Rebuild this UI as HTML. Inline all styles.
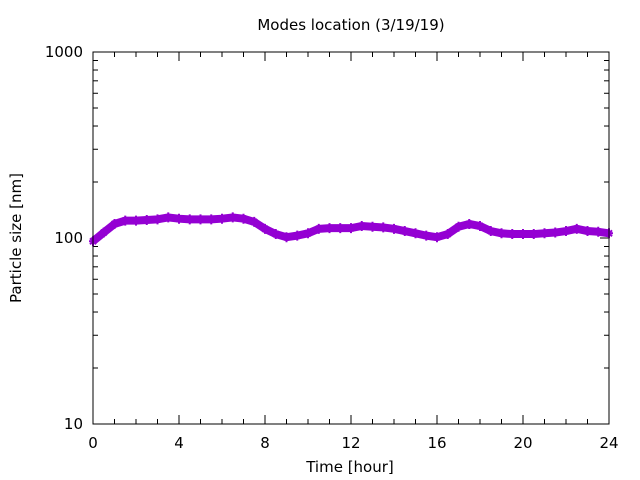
<!DOCTYPE html>
<html><head><meta charset="utf-8"><style>
body{margin:0;background:#fff}
svg{display:block;font-family:"DejaVu Sans","Liberation Sans",sans-serif}
</style></head><body>
<svg id="chart" width="640" height="480" viewBox="0 0 640 480" xmlns="http://www.w3.org/2000/svg">
<rect width="640" height="480" fill="#fff"/>
<text x="351" y="30" font-size="15" text-anchor="middle">Modes location (3/19/19)</text>
<text x="350" y="472" font-size="15" text-anchor="middle">Time [hour]</text>
<text x="21" y="238" font-size="15" text-anchor="middle" transform="rotate(-90 21 238)">Particle size [nm]</text>
<g id="axes"></g>
<g id="series"></g>
<rect x="93" y="52" width="516" height="372" fill="none" stroke="#000" stroke-width="1"/>
</svg>
<script>
const hours=[0,0.5,1,1.5,2,2.5,3,3.5,4,4.5,5,5.5,6,6.5,7,7.5,8,8.5,9,9.5,10,10.5,11,11.5,12,12.5,13,13.5,14,14.5,15,15.5,16,16.5,17,17.5,18,18.5,19,19.5,20,20.5,21,21.5,22,22.5,23,23.5,24];
const sizes=[96,107,119,124,124,125,126,129,127,126,126,126,127,129,127,122,112,105,101,103,106,112,113,113,113,116,115,114,112,109,106,103,101,105,115,119,116,109,106,105,105,105,106,107,109,112,109,108,106];
const xTicks=[0,4,8,12,16,20,24];
const yTicks=[10,100,1000];
const NS="http://www.w3.org/2000/svg";
const X0=93,X1=609,Y0=424,Y1=52;
const xs=h=>X0+(h/24)*(X1-X0);
const ys=v=>Y0-(Math.log10(v)-1)/2*(Y0-Y1);
const axes=document.getElementById('axes');
function line(x1,y1,x2,y2,name){const l=document.createElementNS(NS,'line');
l.setAttribute('x1',x1);l.setAttribute('y1',y1);l.setAttribute('x2',x2);l.setAttribute('y2',y2);
l.setAttribute('stroke','#000');


axes.appendChild(l);}
function text(x,y,s,anchor,name){const t=document.createElementNS(NS,'text');
t.setAttribute('x',x);t.setAttribute('y',y);t.setAttribute('font-size','15');t.setAttribute('text-anchor',anchor);t.textContent=s;


axes.appendChild(t);}
for(let h=0;h<=24;h++){const x=xs(h);const major=h%4===0;const len=major?9:5;
line(x,Y0,x,Y0-len,'x-tick');line(x,Y1,x,Y1+len,'x-tick');}
xTicks.forEach(h=>text(xs(h),448,String(h),'middle','x-tick-label'));
for(let d=1;d<1000;d*=10){for(let m=1;m<=10;m++){const v=d*m;if(v<10||v>1000)continue;const y=ys(v);const major=(m===1||m===10);const len=major?9:5;
line(X0,y,X0+len,y,'y-tick');line(X1,y,X1-len,y,'y-tick');}}
yTicks.forEach(v=>text(83,ys(v)+5,String(v),'end','y-tick-label'));
const series=document.getElementById('series');
const pl=document.createElementNS(NS,'polyline');
pl.setAttribute('points',hours.map((h,i)=>xs(h)+','+ys(sizes[i])).join(' '));
pl.setAttribute('fill','none');pl.setAttribute('stroke','#9400d3');pl.setAttribute('stroke-width','8');pl.setAttribute('stroke-linejoin','round');


series.appendChild(pl);
hours.forEach((h,i)=>{const x=xs(h),y=ys(sizes[i]);const p=document.createElementNS(NS,'path');
p.setAttribute('d',`M${x-4},${y}H${x+4}M${x},${y-5}V${y+5}M${x-3},${y-3}L${x+3},${y+3}M${x-3},${y+3}L${x+3},${y-3}`);
p.setAttribute('stroke','#9400d3');p.setAttribute('stroke-width','2');


series.appendChild(p);});
</script>
</body></html>
